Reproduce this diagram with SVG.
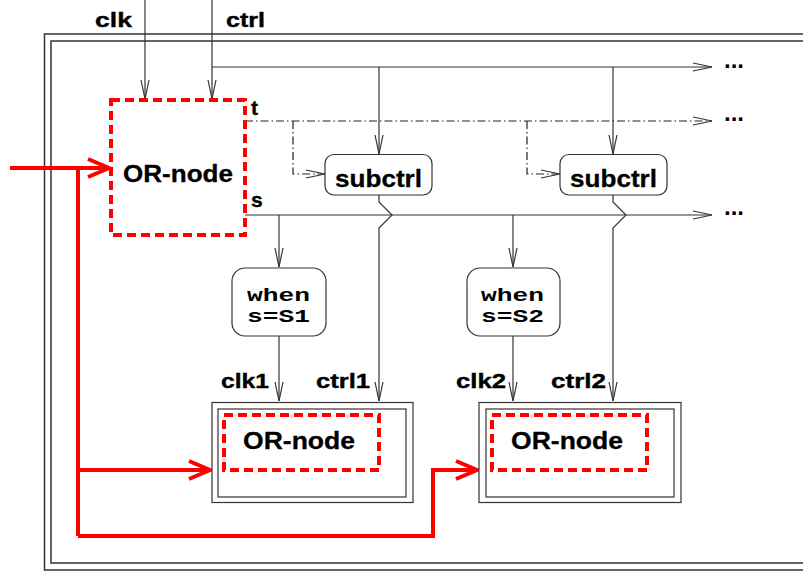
<svg xmlns="http://www.w3.org/2000/svg" width="803" height="571" viewBox="0 0 803 571">
<style>
.ln{fill:none;stroke:#333;stroke-width:1.2}
.dd{fill:none;stroke:#222;stroke-width:1.2;stroke-dasharray:8,3,1.5,3}
.red{fill:none;stroke:#ff0000;stroke-width:4}
.rd{fill:none;stroke:#ff0000;stroke-width:4;stroke-dasharray:9,5}
.frm{fill:none;stroke:#333;stroke-width:1.5}
.box{fill:#fff;stroke:#333;stroke-width:1.2}
.t{font-family:"Liberation Sans",Arial,sans-serif;font-weight:bold;font-size:21px;fill:#000;stroke:#000;stroke-width:0.4}
.big{font-family:"Liberation Sans",Arial,sans-serif;font-weight:bold;font-size:24px;fill:#000;stroke:#000;stroke-width:0.3}
.dots{font-family:"Liberation Sans",Arial,sans-serif;font-weight:bold;font-size:24px;fill:#000}
.mono{font-family:"Liberation Mono","Courier New","DejaVu Sans Mono",monospace;font-weight:bold;font-size:18px;fill:#000}
</style>
<defs>
<marker id="a" markerUnits="userSpaceOnUse" markerWidth="20" markerHeight="10" refX="19" refY="4" orient="auto" overflow="visible">
<path d="M0,0 L19,4 L0,8" fill="none" stroke="#333" stroke-width="1.2"/>
</marker>
<marker id="ra" markerUnits="userSpaceOnUse" markerWidth="24" markerHeight="22" refX="21" refY="10" orient="auto" overflow="visible">
<path d="M0,1 L21,10 L0,19" fill="none" stroke="#ff0000" stroke-width="4"/>
</marker>
</defs>

<g id="frame">
<rect x="44.5" y="34" width="780" height="536" class="frm"/>
<rect x="51" y="41" width="770" height="522" class="frm"/>
</g>

<g id="connectors">
<path class="ln" d="M145,0 V99" marker-end="url(#a)"/>
<path class="ln" d="M212,0 V99" marker-end="url(#a)"/>
<path class="ln" d="M212,67 H712" marker-end="url(#a)"/>
<path class="ln" d="M379,67 V154" marker-end="url(#a)"/>
<path class="ln" d="M613,67 V154" marker-end="url(#a)"/>
<path class="dd" d="M245,121 H712" marker-end="url(#a)"/>
<path class="dd" d="M293,121 V174 H325" marker-end="url(#a)"/>
<path class="dd" d="M527,121 V174 H560" marker-end="url(#a)"/>
<path class="ln" d="M245,215 H712" marker-end="url(#a)"/>
<path class="ln" d="M279,215 V267" marker-end="url(#a)"/>
<path class="ln" d="M513,215 V267" marker-end="url(#a)"/>
<path class="ln" d="M379,195 V202 L392,215 L379,228 V401" marker-end="url(#a)"/>
<path class="ln" d="M613,195 V202 L626,215 L613,228 V401" marker-end="url(#a)"/>
<path class="ln" d="M279,336 V401" marker-end="url(#a)"/>
<path class="ln" d="M513,336 V401" marker-end="url(#a)"/>
<path class="red" d="M10,168 H109" marker-end="url(#ra)"/>
<path class="red" d="M78,168 V536"/>
<path class="red" d="M78,470 H210" marker-end="url(#ra)"/>
<path class="red" d="M78,536 H433 V470 H477" marker-end="url(#ra)"/>
</g>

<g id="labels">
<text class="t" x="95" y="27" textLength="37" lengthAdjust="spacingAndGlyphs">clk</text>
<text class="t" x="226" y="27" textLength="39" lengthAdjust="spacingAndGlyphs">ctrl</text>
<text class="t" x="251" y="115" font-size="23">t</text>
<text class="t" x="251" y="207" font-size="23">s</text>
<text class="dots" x="724" y="68">...</text>
<text class="dots" x="724" y="121">...</text>
<text class="dots" x="724" y="215">...</text>
<text class="t" x="221" y="388" textLength="48" lengthAdjust="spacingAndGlyphs">clk1</text>
<text class="t" x="316" y="388" textLength="54" lengthAdjust="spacingAndGlyphs">ctrl1</text>
<text class="t" x="456" y="388" textLength="50" lengthAdjust="spacingAndGlyphs">clk2</text>
<text class="t" x="551" y="388" textLength="55" lengthAdjust="spacingAndGlyphs">ctrl2</text>
</g>

<g id="or-node-top">
<rect x="111" y="100" width="134" height="135" class="rd"/>
<text class="big" x="123" y="182" textLength="110" lengthAdjust="spacingAndGlyphs">OR-node</text>
</g>

<g id="subctrl1">
<rect x="325" y="154.5" width="107" height="40.5" rx="9" class="box"/>
<text class="big" x="335" y="187" textLength="87" lengthAdjust="spacingAndGlyphs">subctrl</text>
</g>

<g id="subctrl2">
<rect x="560" y="154.5" width="107" height="40.5" rx="9" class="box"/>
<text class="big" x="570" y="187" textLength="87" lengthAdjust="spacingAndGlyphs">subctrl</text>
</g>

<g id="when1">
<rect x="232" y="268" width="94" height="68" rx="13" class="box"/>
<text class="mono" x="247" y="301" textLength="63" lengthAdjust="spacingAndGlyphs">when</text>
<text class="mono" x="247" y="322" textLength="63" lengthAdjust="spacingAndGlyphs">s=S1</text>
</g>

<g id="when2">
<rect x="467" y="268" width="93" height="68" rx="13" class="box"/>
<text class="mono" x="481" y="301" textLength="63" lengthAdjust="spacingAndGlyphs">when</text>
<text class="mono" x="481" y="322" textLength="63" lengthAdjust="spacingAndGlyphs">s=S2</text>
</g>

<g id="sub1">
<rect x="212" y="402.5" width="201" height="100" class="box"/>
<rect x="218" y="409" width="188" height="88" class="box"/>
<rect x="224" y="415" width="155" height="55" class="rd"/>
<text class="big" x="243" y="449" textLength="112" lengthAdjust="spacingAndGlyphs">OR-node</text>
</g>

<g id="sub2">
<rect x="479" y="402.5" width="202" height="100" class="box"/>
<rect x="486" y="409" width="188" height="88" class="box"/>
<rect x="492" y="415" width="155" height="55" class="rd"/>
<text class="big" x="511" y="449" textLength="112" lengthAdjust="spacingAndGlyphs">OR-node</text>
</g>
</svg>
